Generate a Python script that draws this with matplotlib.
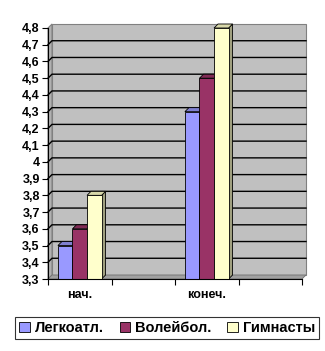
"""Excel-style 3D column chart: нач. / конеч."""
import numpy as np, matplotlib
matplotlib.use('Agg')
import matplotlib.pyplot as plt
from matplotlib.patches import Polygon, Rectangle

plt.rcParams.update({'font.family': ['Liberation Sans', 'DejaVu Sans'],
                     'font.size': 9, 'font.weight': 'bold'})

categories = ['нач.', '', 'конеч.', '']
series = ['Легкоатл.', 'Волейбол.', 'Гимнасты']
values = {'Легкоатл.': [3.5, np.nan, 4.3, np.nan],
          'Волейбол.': [3.6, np.nan, 4.5, np.nan],
          'Гимнасты': [3.8, np.nan, 4.8, np.nan]}
yticks = [3.3, 3.4, 3.5, 3.6, 3.7, 3.8, 3.9, 4.0, 4.1, 4.2, 4.3, 4.4, 4.5, 4.6, 4.7, 4.8]

face = {'Легкоатл.': '#9999FF', 'Волейбол.': '#993366', 'Гимнасты': '#FFFFCC'}
side = {'Легкоатл.': '#7373BF', 'Волейбол.': '#73264D', 'Гимнасты': '#A0A080'}
top = {'Легкоатл.': '#8080D0', 'Волейбол.': '#802B55', 'Гимнасты': '#D8D8AA'}

W, H, DPI = 325, 351, 100
fig = plt.figure(figsize=(W / DPI, H / DPI), dpi=DPI, facecolor='white')
L, R, B, T = 48, 302, 279, 28   # pixel box of the front plane
ax = fig.add_axes([L / W, 1 - B / H, (R - L) / W, (B - T) / H])
ax.set_facecolor('none')
ymin, ymax = yticks[0], yticks[-1]
xmin, xmax = -0.5, len(categories) - 0.5
ax.set_xlim(xmin, xmax)
ax.set_ylim(ymin, ymax)

# depth offset, 4 px right and up, in data units
dpx = 4
dx = dpx * (xmax - xmin) / (R - L)
dy = dpx * (ymax - ymin) / (B - T)

# back wall, left wall, floor
ax.add_patch(Polygon([(xmin + dx, ymin + dy), (xmax + dx, ymin + dy), (xmax + dx, ymax + dy),
                      (xmin + dx, ymax + dy)], closed=True, fc='#C0C0C0', ec='#808080',
                     lw=0.8, clip_on=False, zorder=0))
ax.add_patch(Polygon([(xmin, ymin), (xmin + dx, ymin + dy), (xmin + dx, ymax + dy), (xmin, ymax)],
                     closed=True, fc='#B0B0B0', ec='#808080', lw=0.8, clip_on=False, zorder=0))
ax.add_patch(Polygon([(xmin, ymin), (xmax, ymin), (xmax + dx, ymin + dy), (xmin + dx, ymin + dy)],
                     closed=True, fc='#A0A0A0', ec='#707070', lw=0.6, clip_on=False, zorder=0))
for y in yticks[1:-1]:
    ax.plot([xmin, xmin + dx, xmax + dx], [y, y + dy, y + dy], color='black', lw=1.0,
            clip_on=False, zorder=1)

# bars
group = 44 / 64
bw = group / len(series)
for i, s in enumerate(series):
    for j, v in enumerate(values[s]):
        if np.isnan(v):
            continue
        x0 = j - group / 2 + i * bw
        x1 = x0 + bw
        ax.add_patch(Polygon([(x1, ymin), (x1 + dx, ymin + dy), (x1 + dx, v + dy), (x1, v)],
                             closed=True, fc=side[s], ec='black', lw=0.6, clip_on=False, zorder=3))
        ax.add_patch(Polygon([(x0, v), (x1, v), (x1 + dx, v + dy), (x0 + dx, v + dy)],
                             closed=True, fc=top[s], ec='black', lw=0.6, clip_on=False, zorder=3))
        ax.add_patch(Rectangle((x0, ymin), bw, v - ymin, fc=face[s], ec='black', lw=0.6,
                               clip_on=False, zorder=4))

for sp in ax.spines.values():
    sp.set_visible(False)
ax.set_yticks(yticks)
ax.set_yticklabels([f'{t:g}'.replace('.', ',') for t in yticks])
ax.set_xticks(range(len(categories)))
ax.set_xticklabels(categories)
ax.set_xticks(np.arange(xmin, xmax + 0.01, 1), minor=True)
ax.tick_params(axis='y', direction='out', length=4, width=0.8, pad=2)
ax.tick_params(axis='x', which='major', length=0, pad=7)
ax.tick_params(axis='x', which='minor', direction='out', length=4, width=0.8)
ax.plot([xmin, xmin], [ymin, ymax], color='black', lw=0.8, clip_on=False, zorder=5)
ax.plot([xmin, xmax], [ymin, ymin], color='black', lw=0.8, clip_on=False, zorder=5)

handles = [Rectangle((0, 0), 1, 1, fc=face[s], ec='black', lw=0.6) for s in series]
leg = fig.legend(handles, series, loc='center', bbox_to_anchor=(167 / W, 1 - 328 / H), ncol=3,
                 frameon=True, fancybox=False, edgecolor='black', handlelength=0.75,
                 handleheight=0.75, handletextpad=0.3, columnspacing=1.1, borderpad=0.3,
                 borderaxespad=0, prop={'size': 10.5, 'weight': 'bold'})
leg.get_frame().set_linewidth(0.8)

fig.savefig('out.png', dpi=DPI, facecolor='white')
